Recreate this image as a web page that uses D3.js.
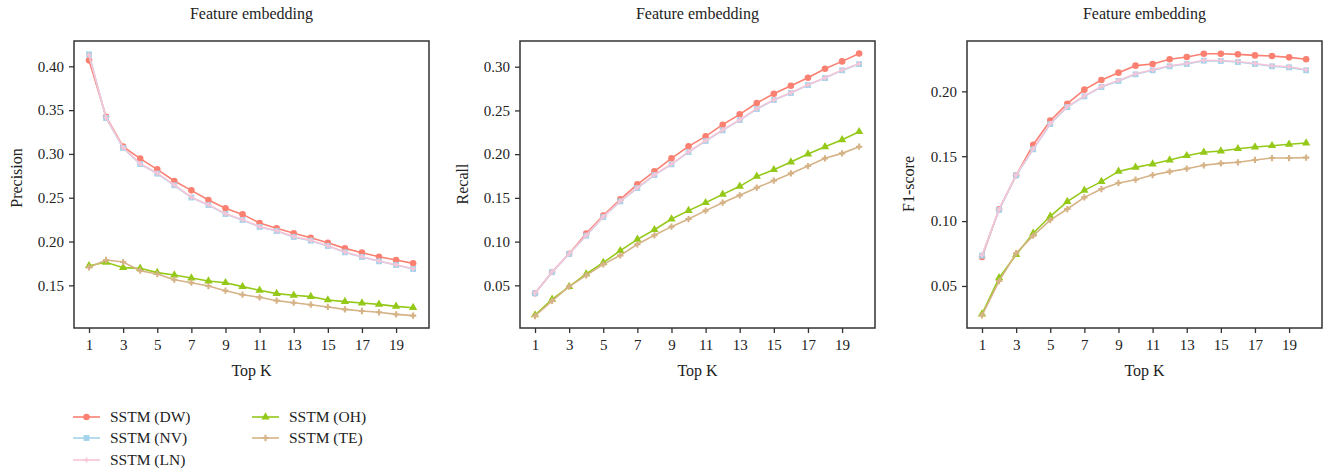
<!DOCTYPE html>
<html>
<head>
<meta charset="utf-8">
<script src="https://cdn.jsdelivr.net/npm/d3@7"></script>
<style>
  body { margin: 0; background: #fff; }
  svg text { font-family: "Liberation Serif", "DejaVu Serif", serif; fill: #222; }
</style>
</head>
<body>
<div id="root"></div>
<script>
const topK = d3.range(1, 21);
const seriesNames = ["SSTM (DW)", "SSTM (NV)", "SSTM (LN)", "SSTM (OH)", "SSTM (TE)"];
const xTicks = [1, 3, 5, 7, 9, 11, 13, 15, 17, 19];

// precision
const precDW = [0.4068, 0.3425, 0.3083, 0.2946, 0.2824, 0.2691, 0.2584, 0.2474, 0.2379, 0.2310, 0.2212, 0.2151, 0.2094, 0.2044, 0.1987, 0.1922, 0.1873, 0.1827, 0.1789, 0.1751];
const precNV = [0.4137, 0.3410, 0.3068, 0.2885, 0.2775, 0.2642, 0.2502, 0.2417, 0.2314, 0.2246, 0.2166, 0.2120, 0.2052, 0.2010, 0.1949, 0.1877, 0.1823, 0.1774, 0.1732, 0.1686];
const precLN = [0.4130, 0.3415, 0.3072, 0.2890, 0.2780, 0.2646, 0.2506, 0.2421, 0.2318, 0.2250, 0.2170, 0.2124, 0.2056, 0.2014, 0.1953, 0.1881, 0.1827, 0.1778, 0.1736, 0.1690];
const precOH = [0.1724, 0.1763, 0.1702, 0.1694, 0.1645, 0.1618, 0.1584, 0.1549, 0.1530, 0.1485, 0.1443, 0.1405, 0.1386, 0.1371, 0.1333, 0.1314, 0.1298, 0.1283, 0.1260, 0.1245];
const precTE = [0.1705, 0.1789, 0.1766, 0.1667, 0.1629, 0.1564, 0.1530, 0.1492, 0.1439, 0.1393, 0.1363, 0.1325, 0.1302, 0.1279, 0.1253, 0.1226, 0.1207, 0.1192, 0.1169, 0.1154];

// recall
const recDW = [0.0409, 0.0652, 0.0862, 0.1091, 0.1297, 0.1483, 0.1655, 0.1803, 0.1952, 0.2089, 0.2204, 0.2337, 0.2455, 0.2585, 0.2691, 0.2783, 0.2874, 0.2977, 0.3061, 0.3152];
const recNV = [0.0409, 0.0652, 0.0858, 0.1068, 0.1281, 0.1460, 0.1613, 0.1761, 0.1883, 0.2024, 0.2150, 0.2272, 0.2390, 0.2516, 0.2619, 0.2699, 0.2790, 0.2870, 0.2958, 0.3030];
const recLN = [0.0412, 0.0655, 0.0861, 0.1072, 0.1285, 0.1464, 0.1617, 0.1765, 0.1887, 0.2028, 0.2154, 0.2276, 0.2394, 0.2520, 0.2623, 0.2703, 0.2794, 0.2874, 0.2962, 0.3034];
const recOH = [0.0161, 0.0340, 0.0485, 0.0630, 0.0759, 0.0896, 0.1026, 0.1136, 0.1258, 0.1354, 0.1445, 0.1540, 0.1632, 0.1746, 0.1822, 0.1910, 0.2002, 0.2085, 0.2165, 0.2257];
const recTE = [0.0149, 0.0321, 0.0485, 0.0614, 0.0740, 0.0843, 0.0969, 0.1072, 0.1171, 0.1258, 0.1354, 0.1445, 0.1529, 0.1617, 0.1697, 0.1780, 0.1864, 0.1952, 0.2009, 0.2085];

// f1-score
const f1DW = [0.0723, 0.1091, 0.1353, 0.1589, 0.1774, 0.1905, 0.2013, 0.2087, 0.2144, 0.2198, 0.2211, 0.2247, 0.2265, 0.2290, 0.2290, 0.2285, 0.2277, 0.2272, 0.2262, 0.2247];
const f1NV = [0.0734, 0.1086, 0.1353, 0.1553, 0.1748, 0.1879, 0.1961, 0.2033, 0.2080, 0.2131, 0.2162, 0.2193, 0.2211, 0.2236, 0.2234, 0.2226, 0.2211, 0.2193, 0.2185, 0.2162];
const f1LN = [0.0738, 0.1090, 0.1356, 0.1557, 0.1752, 0.1883, 0.1965, 0.2037, 0.2084, 0.2135, 0.2166, 0.2197, 0.2215, 0.2240, 0.2238, 0.2230, 0.2215, 0.2197, 0.2189, 0.2166];
const f1OH = [0.0284, 0.0562, 0.0741, 0.0906, 0.1037, 0.1150, 0.1237, 0.1304, 0.1383, 0.1414, 0.1440, 0.1471, 0.1504, 0.1530, 0.1540, 0.1558, 0.1571, 0.1581, 0.1592, 0.1602];
const f1TE = [0.0274, 0.0538, 0.0752, 0.0888, 0.1008, 0.1093, 0.1183, 0.1247, 0.1294, 0.1319, 0.1355, 0.1381, 0.1404, 0.1430, 0.1445, 0.1453, 0.1471, 0.1486, 0.1486, 0.1489];

const colors = ["#fa8072", "#a3d3ea", "#f7c5d8", "#94c919", "#d6b387"];
const symbols = [d3.symbolCircle, d3.symbolSquare, d3.symbolCross, d3.symbolTriangle, d3.symbolCross];
const symSizes = [34, 34, 14, 30, 22];

const panels = [
  { left: 74, label: "Precision", labelX: 16, labelY: 178, series: [precDW, precNV, precLN, precOH, precTE],
    yDomain: [0.1013, 0.4289], yTicks: [0.15, 0.20, 0.25, 0.30, 0.35, 0.40] },
  { left: 520, label: "Recall", labelX: 462, labelY: 184, series: [recDW, recNV, recLN, recOH, recTE],
    yDomain: [0.0012, 0.3294], yTicks: [0.05, 0.10, 0.15, 0.20, 0.25, 0.30] },
  { left: 967, label: "F1-score", labelX: 908, labelY: 184, series: [f1DW, f1NV, f1LN, f1OH, f1TE],
    yDomain: [0.0176, 0.2388], yTicks: [0.05, 0.10, 0.15, 0.20] },
];

const width = 1329, height = 472;
const pw = 355, plotTop = 41, plotBottom = 328;

const svg = d3.create("svg").attr("width", width).attr("height", height);

panels.forEach((p) => {
  const x = d3.scaleLinear().domain([0.12, 20.93]).range([p.left, p.left + pw]);
  const y = d3.scaleLinear().domain(p.yDomain).range([plotBottom, plotTop]);
  const g = svg.append("g");

  g.append("text")
    .attr("x", p.left + pw / 2)
    .attr("y", 19)
    .attr("text-anchor", "middle")
    .attr("font-size", 16)
    .text("Feature embedding");

  const xAxis = g.append("g")
    .attr("transform", `translate(0,${plotBottom})`)
    .call(d3.axisBottom(x).tickValues(xTicks).tickSize(5).tickPadding(6).tickFormat(d3.format("d")));
  const yAxis = g.append("g")
    .attr("transform", `translate(${p.left},0)`)
    .call(d3.axisLeft(y).tickValues(p.yTicks).tickSize(5).tickPadding(5).tickFormat(d3.format(".2f")));
  [xAxis, yAxis].forEach((a) => {
    a.select(".domain").remove();
    a.selectAll(".tick line").attr("stroke", "#333").attr("stroke-width", 1.3);
    a.selectAll(".tick text").attr("font-size", 15).attr("fill", "#222")
      .attr("font-family", "Liberation Serif, serif");
  });

  g.append("rect")
    .attr("x", p.left).attr("y", plotTop)
    .attr("width", pw).attr("height", plotBottom - plotTop)
    .attr("fill", "none").attr("stroke", "#333").attr("stroke-width", 1.5);

  g.append("text")
    .attr("x", p.left + pw / 2)
    .attr("y", 376)
    .attr("text-anchor", "middle")
    .attr("font-size", 16)
    .text("Top K");

  g.append("text")
    .attr("transform", `translate(${p.labelX + 6},${p.labelY}) rotate(-90)`)
    .attr("text-anchor", "middle")
    .attr("font-size", 16)
    .text(p.label);

  const line = d3.line().x((d, i) => x(topK[i])).y((d) => y(d));

  p.series.forEach((vals, s) => {
    g.append("path")
      .datum(vals)
      .attr("fill", "none")
      .attr("stroke", colors[s])
      .attr("stroke-width", 1.6)
      .attr("d", line);
    g.append("g")
      .selectAll("path")
      .data(vals)
      .join("path")
      .attr("transform", (d, i) => `translate(${x(topK[i])},${y(d)})`)
      .attr("d", d3.symbol(symbols[s], symSizes[s]))
      .attr("fill", colors[s]);
  });
});

// legend
const legendPos = [
  { x: 73, y: 417 }, { x: 73, y: 438 }, { x: 73, y: 460 },
  { x: 252, y: 417 }, { x: 252, y: 438 },
];
const legend = svg.append("g");
seriesNames.forEach((name, s) => {
  const lp = legendPos[s];
  const item = legend.append("g").attr("transform", `translate(${lp.x},${lp.y})`);
  item.append("line").attr("x1", 0).attr("x2", 27)
    .attr("stroke", colors[s]).attr("stroke-width", 1.6);
  item.append("path").attr("transform", "translate(13.5,0)")
    .attr("d", d3.symbol(symbols[s], symSizes[s])).attr("fill", colors[s]);
  item.append("text").attr("x", 37).attr("y", 5).attr("font-size", 15.5).text(name);
});

d3.select("#root").append(() => svg.node());
</script>
</body>
</html>
